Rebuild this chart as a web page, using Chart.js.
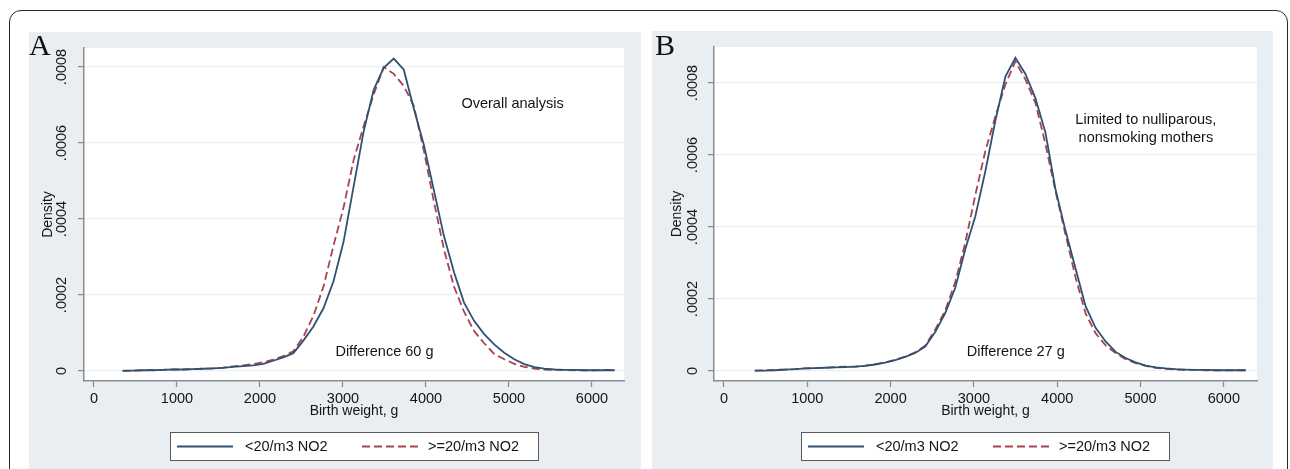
<!DOCTYPE html>
<html>
<head>
<meta charset="utf-8">
<script src="https://cdn.jsdelivr.net/npm/chart.js@4.4.1/dist/chart.umd.min.js"></script>
<style>
  html, body { margin: 0; padding: 0; background: #fff; }
  body { width: 1290px; height: 469px; position: relative; overflow: hidden; }
  .frame { position: absolute; left: 9px; top: 10px; width: 1279px; height: 530px; border: 1.5px solid #2a2a2a; border-radius: 12px; box-sizing: border-box; }
  .panel { position: absolute; background: #e8eef1; }
  .panel canvas { display: block; }
</style>
</head>
<body>
<div class="frame"></div>
<div class="panel" style="left:29px; top:32px; width:612px; height:437px;"><canvas id="chartA" width="612" height="437"></canvas></div>
<div class="panel" style="left:652px; top:31px; width:621px; height:438px;"><canvas id="chartB" width="621" height="438"></canvas></div>
<script>
// axis ticks
const xTickValues = [0, 1000, 2000, 3000, 4000, 5000, 6000];
const xTickLabels = ["0", "1000", "2000", "3000", "4000", "5000", "6000"];
const yTickValues = [0, 0.0002, 0.0004, 0.0006, 0.0008];
const yTickLabels = ["0", ".0002", ".0004", ".0006", ".0008"];
const seriesLabels = ["<20/m3 NO2", ">=20/m3 NO2"];

// panel A: overall analysis (birth weight g -> density)
const weightA = [345, 466, 587, 708, 829, 950, 1071, 1192, 1313, 1434,
  1555, 1676, 1797, 1918, 2039, 2160, 2281, 2402, 2523, 2644,
  2765, 2886, 3007, 3128, 3249, 3370, 3491, 3612, 3733, 3854,
  3975, 4096, 4217, 4338, 4459, 4580, 4701, 4822, 4943, 5064,
  5185, 5306, 5427, 5548, 5669, 5790, 5911, 6032, 6153, 6274];
const lowNo2A = [0.0000005, 0.000001, 0.000002, 0.000002, 0.000003, 0.000004, 0.000004, 0.000005, 0.000006, 0.000007,
  0.000008, 0.000011, 0.000013, 0.000015, 0.000019, 0.000027, 0.000036, 0.000047, 0.00008, 0.000117,
  0.000165, 0.000236, 0.00034, 0.000485, 0.00063, 0.00074, 0.000798, 0.000822, 0.000793, 0.00069,
  0.000595, 0.000475, 0.000355, 0.00026, 0.00018, 0.000132, 0.000097, 0.00007, 0.000048, 0.000031,
  0.000018, 0.00001, 0.000006, 0.000004, 0.000003, 0.000003, 0.000002, 0.000002, 0.000002, 0.000002];
const highNo2A = [0.000001, 0.000001, 0.000002, 0.000003, 0.000003, 0.000004, 0.000004, 0.000005, 0.000006, 0.000007,
  0.000009, 0.000012, 0.000015, 0.000018, 0.000023, 0.00003, 0.000039, 0.000052, 0.00009, 0.000145,
  0.000222, 0.00033, 0.00043, 0.000555, 0.000644, 0.000728, 0.0008, 0.000782, 0.00075, 0.000698,
  0.00058, 0.000445, 0.00032, 0.000222, 0.000156, 0.000105, 0.000073, 0.000045, 0.000031, 0.000019,
  0.000011, 0.000006, 0.000004, 0.000003, 0.000003, 0.000002, 0.000002, 0.000002, 0.000003, 0.000003];

// panel B: nulliparous, nonsmoking mothers
const weightB = [370, 490, 611, 731, 851, 972, 1092, 1212, 1332, 1453,
  1573, 1693, 1814, 1934, 2054, 2175, 2295, 2415, 2535, 2656,
  2776, 2896, 3017, 3137, 3257, 3378, 3498, 3618, 3738, 3859,
  3979, 4099, 4220, 4340, 4460, 4581, 4701, 4821, 4941, 5062,
  5182, 5302, 5423, 5543, 5663, 5784, 5904, 6024, 6144, 6265];
const lowNo2B = [0.000001, 0.000001, 0.000002, 0.000004, 0.000005, 0.000007, 0.000008, 0.000009, 0.00001, 0.000011,
  0.000012, 0.000014, 0.000018, 0.000023, 0.00003, 0.000039, 0.00005, 0.000068, 0.000108, 0.000161,
  0.000231, 0.000338, 0.00043, 0.000555, 0.000695, 0.000818, 0.00087, 0.000825, 0.000758, 0.000662,
  0.000505, 0.00039, 0.000285, 0.00018, 0.00012, 0.000082, 0.000053, 0.000036, 0.000024, 0.000015,
  0.00001, 0.000007, 0.000005, 0.000004, 0.000003, 0.000003, 0.000002, 0.000002, 0.000002, 0.000002];
const highNo2B = [0.000001, 0.000002, 0.000003, 0.000004, 0.000005, 0.000007, 0.000008, 0.000009, 0.000011, 0.000012,
  0.000012, 0.000015, 0.000019, 0.000024, 0.000031, 0.00004, 0.000052, 0.00007, 0.000115, 0.000168,
  0.000247, 0.000356, 0.000489, 0.000611, 0.000707, 0.000796, 0.00086, 0.00081, 0.000745, 0.00063,
  0.0005, 0.00038, 0.00026, 0.00016, 0.000105, 0.000071, 0.00005, 0.000033, 0.000022, 0.000014,
  0.000009, 0.000006, 0.000004, 0.000003, 0.000003, 0.000002, 0.000002, 0.000002, 0.000002, 0.000002];

const notesA = ["Overall analysis", "Difference 60 g"];
const notesB = ["Limited to nulliparous,", "nonsmoking mothers", "Difference 27 g"];

const FONT = '"Liberation Sans", Arial, sans-serif';
const TEXT = "#141414";
const AXIS = "#8a8d90";
const GRID = "#eaeff2";
const BLUE = "#2f5173";
const RED = "#a8434f";

const panels = [
  {
    id: "chartA", tag: "A", tagX: 0, tagY: 23,
    yWidth: 55, pad: { top: 16, right: 17, bottom: 44, left: 0 },
    xMin: -120, xMax: 6386, yMin: -0.0000263, yMax: 0.00085,
    titlePad: 10.6, tickOffset: 22,
    weight: weightA, low: lowNo2A, high: highNo2A,
    notes: [
      { text: notesA[0], x: 5044, y: 0.000703 },
      { text: notesA[1], x: 3500, y: 0.00005 },
    ],
    legend: { x: 141, y: 400 },
  },
  {
    id: "chartB", tag: "B", tagX: 3, tagY: 24,
    yWidth: 62, pad: { top: 16, right: 16, bottom: 44, left: 0 },
    xMin: -120, xMax: 6398, yMin: -0.0000278, yMax: 0.0009,
    titlePad: 16.6, tickOffset: 20.6,
    weight: weightB, low: lowNo2B, high: highNo2B,
    notes: [
      { text: notesB[0], x: 5064, y: 0.000697 },
      { text: notesB[1], x: 5064, y: 0.000648 },
      { text: notesB[2], x: 3502, y: 0.0000528 },
    ],
    legend: { x: 149, y: 401 },
  },
];

function makeDecor(panel) {
  return {
    id: "decor_" + panel.id,
    beforeDraw(chart) {
      const { ctx, chartArea } = chart;
      ctx.save();
      ctx.fillStyle = "#ffffff";
      ctx.fillRect(chartArea.left, chartArea.top, chartArea.right - chartArea.left, chartArea.bottom - chartArea.top);
      ctx.restore();
    },
    afterDraw(chart) {
      const { ctx } = chart;
      const xScale = chart.scales.x;
      const yScale = chart.scales.y;
      ctx.save();
      ctx.font = `14.5px ${FONT}`;
      ctx.fillStyle = TEXT;
      ctx.textAlign = "center";
      ctx.textBaseline = "middle";

      // y tick labels, rotated like Stata
      yScale.ticks.forEach((tick, i) => {
        const py = yScale.getPixelForValue(tick.value);
        ctx.save();
        ctx.translate(yScale.right - panel.tickOffset, py);
        ctx.rotate(-Math.PI / 2);
        ctx.fillText(yTickLabels[i], 0, 0);
        ctx.restore();
      });

      // notes in the plot
      panel.notes.forEach((n) => {
        ctx.fillText(n.text, xScale.getPixelForValue(n.x), yScale.getPixelForValue(n.y));
      });

      // legend box under the axis
      const lg = panel.legend;
      const boxW = 368, boxH = 28;
      ctx.fillStyle = "#ffffff";
      ctx.fillRect(lg.x, lg.y, boxW, boxH);
      ctx.strokeStyle = "#5a5a5a";
      ctx.lineWidth = 1;
      ctx.strokeRect(lg.x + 0.5, lg.y + 0.5, boxW, boxH);
      const cy = lg.y + boxH / 2 + 0.5;
      const slots = [
        { from: 7, to: 63, text: 75 },
        { from: 192, to: 250, text: 258 },
      ];
      chart.data.datasets.forEach((ds, i) => {
        const s = slots[i];
        ctx.beginPath();
        ctx.strokeStyle = ds.borderColor;
        ctx.lineWidth = ds.borderWidth;
        ctx.setLineDash(ds.borderDash || []);
        ctx.moveTo(lg.x + s.from, cy);
        ctx.lineTo(lg.x + s.to, cy);
        ctx.stroke();
        ctx.setLineDash([]);
        ctx.fillStyle = TEXT;
        ctx.textAlign = "left";
        ctx.fillText(ds.label, lg.x + s.text, cy);
      });

      // panel letter
      ctx.font = '30px "Liberation Serif", "Times New Roman", serif';
      ctx.fillStyle = "#111";
      ctx.textAlign = "left";
      ctx.textBaseline = "alphabetic";
      ctx.fillText(panel.tag, panel.tagX, panel.tagY);
      ctx.restore();
    },
  };
}

panels.forEach((panel) => {
  const toPoints = (vals) => panel.weight.map((w, i) => ({ x: w, y: vals[i] }));
  new Chart(document.getElementById(panel.id), {
    type: "line",
    data: {
      datasets: [
        {
          label: seriesLabels[0],
          data: toPoints(panel.low),
          borderColor: BLUE,
          borderWidth: 1.8,
          pointRadius: 0,
          tension: 0,
          fill: false,
        },
        {
          label: seriesLabels[1],
          data: toPoints(panel.high),
          borderColor: RED,
          borderWidth: 1.8,
          borderDash: [8, 4],
          pointRadius: 0,
          tension: 0,
          fill: false,
        },
      ],
    },
    options: {
      responsive: false,
      animation: false,
      devicePixelRatio: 1,
      events: [],
      layout: { padding: panel.pad },
      plugins: {
        legend: { display: false },
        tooltip: { enabled: false },
      },
      scales: {
        x: {
          type: "linear",
          min: panel.xMin,
          max: panel.xMax,
          afterBuildTicks: (scale) => {
            scale.ticks = xTickValues.map((v) => ({ value: v }));
          },
          afterFit: (scale) => {
            scale.height = 44;
          },
          ticks: {
            font: { family: FONT, size: 14.5 },
            color: TEXT,
            padding: 3,
            maxRotation: 0,
            autoSkip: false,
            callback: (value, index) => xTickLabels[index],
          },
          grid: {
            drawOnChartArea: false,
            drawTicks: true,
            tickLength: 6,
            tickColor: AXIS,
            tickWidth: 1.3,
          },
          border: { color: AXIS, width: 1.5 },
          title: {
            display: true,
            text: "Birth weight, g",
            font: { family: FONT, size: 14 },
            color: TEXT,
            padding: { top: 0, bottom: 5.6 },
          },
        },
        y: {
          type: "linear",
          min: panel.yMin,
          max: panel.yMax,
          afterBuildTicks: (scale) => {
            scale.ticks = yTickValues.map((v) => ({ value: v }));
          },
          afterFit: (scale) => {
            scale.width = panel.yWidth;
          },
          ticks: { display: false },
          grid: {
            color: GRID,
            lineWidth: 1.2,
            drawTicks: true,
            tickLength: 6,
            tickColor: AXIS,
            tickWidth: 1.3,
          },
          border: { color: AXIS, width: 1.5 },
          title: {
            display: true,
            text: "Density",
            font: { family: FONT, size: 14 },
            color: TEXT,
            padding: { top: panel.titlePad, bottom: 0 },
          },
        },
      },
    },
    plugins: [makeDecor(panel)],
  });
});
</script>
</body>
</html>
